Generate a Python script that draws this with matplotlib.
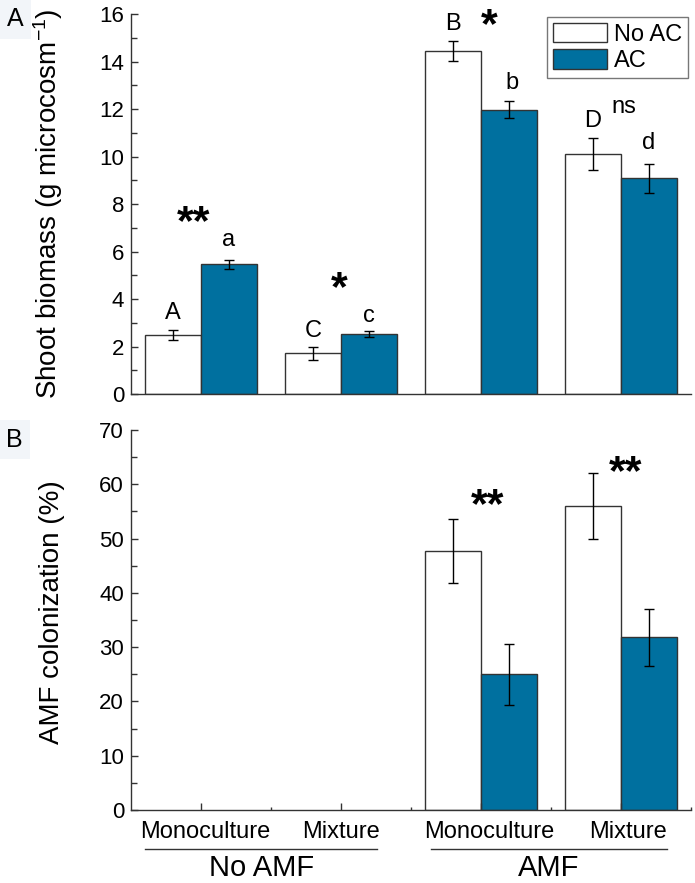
import numpy as np
import matplotlib
matplotlib.use("Agg")
import matplotlib.pyplot as plt
import matplotlib.transforms as mtransforms

plt.rcParams['font.family'] = ['Liberation Sans', 'DejaVu Sans']
plt.rcParams['mathtext.fontset'] = 'custom'
plt.rcParams['mathtext.rm'] = 'Liberation Sans'
plt.rcParams['mathtext.it'] = 'Liberation Sans:italic'
plt.rcParams['mathtext.default'] = 'regular'

# data
groups = [1, 2, 3, 4]
group_names = ["Monoculture", "Mixture", "Monoculture", "Mixture"]
amf_names = ["No AMF", "AMF"]
series_names = ["No AC", "AC"]

biomass_noac = [2.48, 1.72, 14.45, 10.10]
biomass_noac_err = [0.20, 0.28, 0.43, 0.67]
biomass_ac = [5.46, 2.52, 11.98, 9.09]
biomass_ac_err = [0.19, 0.12, 0.36, 0.61]

col_noac = [0, 0, 47.7, 56.0]
col_noac_err = [0, 0, 5.9, 6.15]
col_ac = [0, 0, 25.0, 31.8]
col_ac_err = [0, 0, 5.6, 5.2]

# letters above bars (text, x, y) and significance stars
letters_top = [("A", 0.8, 3.42), ("a", 1.2, 6.5), ("C", 1.8, 2.65), ("c", 2.2, 3.3),
               ("B", 2.8, 15.6), ("b", 3.22, 13.1), ("D", 3.8, 11.5), ("d", 4.2, 10.55)]
stars_top = [("**", 0.95, 7.2), ("*", 1.99, 4.4), ("*", 3.06, 15.5)]
ns_top = ("ns", 4.02, 12.1)
stars_bot = [("**", 3.05, 56.0), ("**", 4.03, 62.0)]

blue = "#00709f"
edge = "#333333"
w = 0.4

fig = plt.figure(figsize=(6.95, 8.83), dpi=100, facecolor="white")
ax1 = fig.add_axes([0.1885, 0.5538, 0.8058, 0.4303])
ax2 = fig.add_axes([0.1885, 0.0827, 0.8058, 0.4303])

x = np.array(groups, dtype=float)
ebkw = dict(ecolor="black", elinewidth=1.0, capsize=3.5, capthick=1.0)

ax1.bar(x - w/2, biomass_noac, w, yerr=biomass_noac_err, color="white",
        edgecolor=edge, linewidth=1.0, error_kw=ebkw, label=series_names[0])
ax1.bar(x + w/2, biomass_ac, w, yerr=biomass_ac_err, color=blue,
        edgecolor=edge, linewidth=1.0, error_kw=ebkw, label=series_names[1])

m = np.array(col_noac) > 0
ax2.bar(x[m] - w/2, np.array(col_noac)[m], w, yerr=np.array(col_noac_err)[m],
        color="white", edgecolor=edge, linewidth=1.0, error_kw=ebkw)
ax2.bar(x[m] + w/2, np.array(col_ac)[m], w, yerr=np.array(col_ac_err)[m],
        color=blue, edgecolor=edge, linewidth=1.0, error_kw=ebkw)

for ax in (ax1, ax2):
    ax.set_xlim(0.5, 4.5)
    for s in ("top", "right"):
        ax.spines[s].set_visible(False)
    for s in ("left", "bottom"):
        ax.spines[s].set_color(edge)
        ax.spines[s].set_linewidth(1.0)
    ax.tick_params(axis="y", which="major", direction="in", length=5, width=1,
                   color=edge, labelsize=16, pad=5)
    ax.tick_params(axis="y", which="minor", direction="in", length=4, width=1, color=edge)

ax1.set_ylim(0, 16)
ax1.set_yticks(np.arange(0, 17, 2))
ax1.set_yticks(np.arange(1, 16, 2), minor=True)
ax1.set_xticks([])
ax1.set_ylabel("Shoot biomass (g microcosm$^{-1}$)", fontsize=20)
ax1.yaxis.set_label_coords(-0.118, 0.5)

ax2.set_ylim(0, 70)
ax2.set_yticks(np.arange(0, 71, 10))
ax2.set_yticks(np.arange(5, 70, 10), minor=True)
ax2.set_xticks(groups)
ax2.set_xticks([1.5, 2.5, 3.5, 4.5], minor=True)
ax2.set_xticklabels([])
ax2.tick_params(axis="x", which="major", direction="in", length=5, width=1, color=edge)
ax2.tick_params(axis="x", which="minor", direction="in", length=2.5, width=1, color=edge)
ax2.set_ylabel("AMF colonization (%)", fontsize=20)
ax2.yaxis.set_label_coords(-0.118, 0.52)

for t, xx, yy in letters_top:
    ax1.text(xx, yy, t, ha="center", va="center", fontsize=17)
for t, xx, yy in stars_top:
    ax1.text(xx, yy, t, ha="center", va="center", fontsize=31, fontweight="bold")
ax1.text(ns_top[1], ns_top[2], ns_top[0], ha="center", va="center", fontsize=17)
for t, xx, yy in stars_bot:
    ax2.text(xx, yy, t, ha="center", va="center", fontsize=31, fontweight="bold")

# category labels under the lower panel
trans = mtransforms.blended_transform_factory(ax2.transData, ax2.transAxes)
label_x = [1.03, 2.0, 3.06, 4.05]
for name, xx in zip(group_names, label_x):
    ax2.text(xx, -0.058, name, transform=trans, ha="center", va="center", fontsize=17)
for name, (x0, x1) in zip(amf_names, [(0.6, 2.26), (2.64, 4.33)]):
    ax2.plot([x0, x1], [-0.103, -0.103], transform=trans, color=edge, lw=1.0, clip_on=False)
    ax2.text((x0 + x1) / 2, -0.153, name, transform=trans, ha="center",
             va="center", fontsize=21)

leg = ax1.legend(loc="upper right", bbox_to_anchor=(0.995, 0.993), fontsize=17,
                 frameon=True, fancybox=False, handlelength=2.3, handleheight=0.9,
                 handletextpad=0.3, borderpad=0.25, labelspacing=0.15, borderaxespad=0)
leg.get_frame().set_edgecolor("#555555")
leg.get_frame().set_linewidth(1.0)

panel_box = dict(boxstyle="square,pad=0.3", facecolor="#f2f5f9", edgecolor="none")
fig.text(0.022, 0.978, "A", ha="center", va="center", fontsize=18, bbox=panel_box)
fig.text(0.021, 0.502, "B", ha="center", va="center", fontsize=18, bbox=panel_box)

fig.savefig("out.png", dpi=100, facecolor="white")
